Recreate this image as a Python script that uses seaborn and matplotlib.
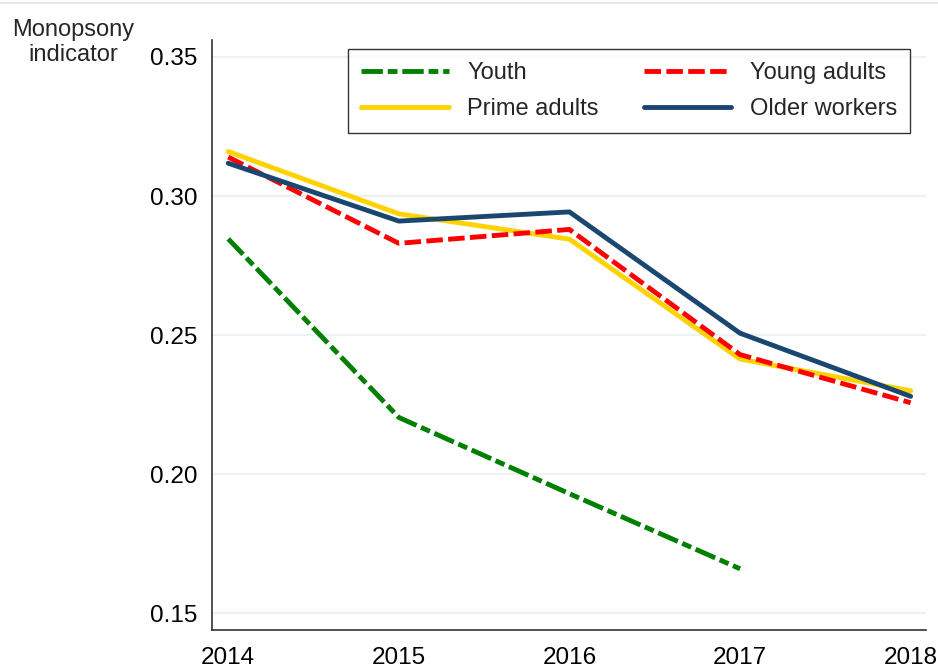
import matplotlib
matplotlib.use("Agg")
import matplotlib.pyplot as plt
from matplotlib.lines import Line2D
import seaborn as sns
import pandas as pd

# data
years = [2014, 2015, 2016, 2017, 2018]
youth = [0.2846, 0.2204, 0.1930, 0.1660, None]
young_adults = [0.3140, 0.2830, 0.2880, 0.2430, 0.2257]
prime_adults = [0.3160, 0.2936, 0.2845, 0.2414, 0.2300]
older_workers = [0.3118, 0.2910, 0.2943, 0.2507, 0.2280]
yticks = [0.15, 0.20, 0.25, 0.30, 0.35]

series = {
    "Youth": youth,
    "Prime adults": prime_adults,
    "Young adults": young_adults,
    "Older workers": older_workers,
}
rows = []
for name, vals in series.items():
    for yr, v in zip(years, vals):
        if v is not None:
            rows.append({"year": yr, "value": v, "group": name})
df = pd.DataFrame(rows)

colors = {
    "Youth": "#008000",
    "Young adults": "#FF0000",
    "Prime adults": "#FFD200",
    "Older workers": "#1A476F",
}
dashes = {
    "Youth": (4.4, 1.0, 2.0, 1.0),
    "Young adults": (3.4, 1.1),
    "Prime adults": "",
    "Older workers": "",
}
lw = 3.5

sns.set_style("white")
plt.rcParams["font.family"] = ["Liberation Sans", "DejaVu Sans"]

fig = plt.figure(figsize=(9.38, 6.71), dpi=100)
ax = fig.add_axes([0.2257, 0.0611, 0.7615, 0.8793])

ax.set_axisbelow(True)
for t in yticks:
    ax.axhline(t, color="#EAF2F3", lw=1.6, zorder=0)

sns.lineplot(data=df, x="year", y="value", hue="group", style="group",
             hue_order=list(series.keys()), style_order=list(series.keys()),
             palette=colors, dashes=dashes, linewidth=lw, legend=False,
             ax=ax)

ax.set_xlim(2013.903, 2018.09)
ax.set_ylim(0.144, 0.3561)
ax.set_xticks(years)
ax.set_xticklabels([str(y) for y in years])
ax.set_yticks(yticks)
ax.set_yticklabels([f"{t:.2f}" for t in yticks])
ax.set_xlabel("")
ax.set_ylabel("")

for s in ["top", "right"]:
    ax.spines[s].set_visible(False)
for s in ["left", "bottom"]:
    ax.spines[s].set_color("#333333")
    ax.spines[s].set_linewidth(1.2)
ax.tick_params(axis="both", direction="out", length=6.5, width=1.0,
               color="#333333", labelsize=17.5, labelcolor="black")
ax.tick_params(axis="y", pad=3.5)
ax.tick_params(axis="x", pad=6)

fig.text(0.078, 0.937, "Monopsony\nindicator", ha="center", va="center",
         fontsize=17, linespacing=1.15)

order = ["Youth", "Prime adults", "Young adults", "Older workers"]
handles = []
for name in order:
    h = Line2D([], [], color=colors[name], lw=lw, label=name)
    if dashes[name]:
        h.set_dashes(dashes[name])
    handles.append(h)
leg = ax.legend(handles=handles, ncol=2, loc="upper right",
                bbox_to_anchor=(0.978, 0.985), fontsize=17,
                frameon=True, fancybox=False, handlelength=3.7,
                handletextpad=0.8, columnspacing=1.9, labelspacing=0.6,
                borderpad=0.55, borderaxespad=0)
leg.get_frame().set_edgecolor("black")
leg.get_frame().set_linewidth(1.0)

fig.add_artist(Line2D([0, 1], [0.995, 0.995], color="#E6E9EC", lw=1.5,
                      transform=fig.transFigure))

fig.savefig("out.png", dpi=100)
